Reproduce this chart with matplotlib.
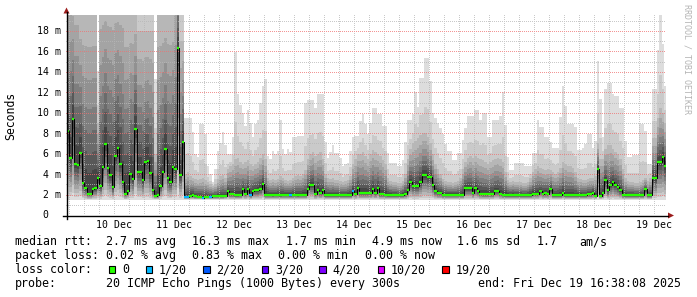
import numpy as np
import matplotlib
matplotlib.use('Agg')
import matplotlib.pyplot as plt
import matplotlib.dates as mdates
import matplotlib.transforms as mtrans
from matplotlib.patches import Rectangle, Polygon
from matplotlib.lines import Line2D

W, H = 697, 297
MONO = 'DejaVu Sans Mono'

# ---- data (hourly bins, ms) ----
t_start = np.datetime64('2025-12-09T16:38:08')
t_end = np.datetime64('2025-12-19T16:38:08')
first_bin = np.datetime64('2025-12-09T17:30')

median_ms = [
    # 9 Dec evening - 11 Dec morning (noisy)
    8.2, 5.6, 9.4, 5.0, 4.9, 6.1, 3.1, 2.6, 2.1, 2.1, 2.5, 2.6, 3.6, 2.8, 4.7, 6.9,
    4.6, 3.9, 2.7, 5.8, 6.6, 5.0, 3.2, 2.1, 2.3, 4.0, 3.5, 8.4, 4.2, 4.2, 3.4, 5.2,
    5.3, 4.1, 2.4, 1.9, 2.0, 2.8, 4.2, 6.5, 3.6, 3.2, 4.7, 4.5, 16.3, 3.9, 7.1,
    # rest
    1.8, 1.8, 1.9, 2.0, 1.85, 1.8, 1.8, 1.7, 1.8, 1.8,
    1.8, 1.85, 1.85, 1.85, 1.85, 1.85, 1.9, 2.3, 2.05, 2.05,
    1.95, 1.95, 2.0, 2.5, 2.1, 2.5, 2.0, 2.3, 2.4, 2.4,
    2.55, 3.0, 2.0, 2.0, 2.0, 1.95, 2.0, 2.0, 1.95, 2.0,
    2.0, 2.0, 1.95, 2.0, 2.0, 1.95, 2.0, 2.0, 2.0, 2.55,
    2.9, 2.9, 2.1, 2.45, 2.2, 2.4, 1.95, 1.95, 1.95, 1.95,
    1.95, 1.95, 1.95, 1.95, 1.95, 1.95, 1.95, 2.3, 2.1, 2.6,
    2.2, 2.2, 2.2, 2.2, 2.2, 2.5, 2.15, 2.6, 2.05, 2.05,
    2.0, 1.96, 1.96, 1.96, 1.96, 1.96, 1.96, 1.96, 2.05, 2.45,
    3.2, 2.8, 2.8, 2.8, 3.2, 3.95, 3.95, 3.75, 3.75, 2.95,
    2.3, 2.15, 2.15, 2.0, 2.0, 2.0, 2.0, 2.0, 2.0, 2.0,
    2.0, 2.0, 2.6, 2.6, 2.6, 2.15, 2.6, 2.3, 2.1, 2.05,
    2.05, 2.05, 2.05, 2.05, 2.3, 2.3, 2.1, 2.0, 1.96, 1.96,
    1.96, 1.96, 1.96, 1.96, 1.96, 1.96, 1.96, 1.96, 1.96, 2.1,
    2.1, 2.1, 2.3, 2.1, 2.2, 2.1, 2.5, 1.94, 1.94, 1.94,
    1.94, 2.2, 1.94, 1.94, 1.94, 1.94, 1.94, 1.94, 1.94, 1.94,
    1.94, 2.05, 2.05, 2.2, 1.9, 4.5, 1.9, 2.2, 3.4, 2.4,
    2.9, 3.2, 2.9, 2.7, 2.4, 2.0, 1.94, 1.94, 1.94, 1.94,
    1.94, 1.94, 1.94, 1.94, 2.5, 1.94, 1.94, 3.6, 3.6, 5.2,
    5.2, 5.7, 4.8,
]

# highest ping per bin (first part goes off the chart)
max_ms = [
    30, 30, 30, 30, 30, 30, 30, 30, 30, 30, 30, 30, 14.1, 30, 30, 30,
    30, 30, 30, 30, 30, 30, 30, 30, 30, 30, 30, 30, 30, 30, 30, 30,
    30, 30, 30, 13.3, 30, 30, 30, 30, 30, 30, 30, 30, 30, 30, 30,
    9.5, 9.5, 9.5, 8.1, 6.0, 5.7, 8.9, 8.9, 7.9, 4.8,
    4.0, 3.2, 4.5, 6.3, 7.0, 8.1, 6.8, 6.0, 6.0, 7.6,
    15.9, 11.8, 10.8, 10.0, 8.7, 10.3, 9.0, 7.6, 8.9, 9.3,
    11.0, 12.6, 13.3, 5.8, 5.5, 6.3, 6.0, 6.3, 9.3, 6.5,
    6.0, 6.5, 6.2, 7.6, 7.6, 7.7, 7.7, 7.7, 11.0, 11.2,
    11.2, 11.2, 10.5, 11.8, 11.8, 11.8, 7.1, 5.6, 6.2, 6.8,
    6.1, 6.1, 5.6, 4.8, 5.0, 5.1, 6.3, 7.6, 7.7, 7.7,
    9.2, 9.9, 8.9, 7.9, 9.0, 10.5, 10.5, 9.9, 9.9, 8.7,
    8.7, 6.1, 5.1, 5.1, 5.1, 4.8, 4.8, 5.4, 7.1, 9.3,
    9.3, 9.9, 12.0, 10.6, 13.4, 13.4, 15.4, 15.4, 13.1, 10.0,
    9.5, 9.0, 8.5, 7.9, 6.9, 6.3, 6.3, 5.4, 5.4, 6.1,
    6.1, 7.3, 8.5, 9.7, 9.7, 9.7, 10.3, 10.3, 9.3, 10.0,
    10.0, 7.6, 7.6, 9.3, 9.3, 9.3, 9.7, 12.0, 8.8, 5.7,
    4.4, 4.4, 5.1, 5.1, 5.1, 5.1, 4.8, 4.8, 4.8, 6.1,
    6.1, 9.3, 8.6, 8.6, 7.6, 7.6, 7.1, 6.6, 6.6, 6.6,
    9.6, 12.6, 10.7, 8.9, 8.9, 8.9, 8.6, 6.4, 6.4, 6.6,
    6.9, 7.9, 7.9, 6.6, 7.2, 15.1, 11.3, 7.6, 12.3, 12.9,
    12.9, 11.8, 11.6, 11.6, 10.5, 10.5, 7.2, 5.7, 5.7, 5.9,
    5.9, 5.9, 8.9, 8.9, 8.2, 5.0, 5.0, 12.3, 12.3, 16.1,
    19.7, 16.7, 12.6,
]

# top of the denser (darker) part of the smoke
mid_ms = [
    24, 24, 22, 22, 22, 20, 20, 20, 20, 20, 20, 20, 9, 22, 22, 22,
    22, 22, 22, 22, 22, 22, 22, 20, 20, 20, 20, 20, 18, 18, 18, 18,
    18, 18, 18, 6, 20, 20, 20, 20, 20, 20, 20, 24, 26, 17, 17,
    4.0, 4.2, 3.8, 3.6, 3.5, 3.4,
    3.5, 3.6, 3.4, 3.2, 3.0, 2.8, 3.0, 3.5, 3.8, 3.9, 3.6,
    4.5, 4.8, 5.0, 5.5, 5.6, 5.2, 5.0, 5.2, 5.4, 5.0, 4.8, 5.0, 5.2, 5.6, 6.0, 5.5,
    3.6, 3.4, 3.5, 3.4, 3.5, 3.8, 3.6, 3.4, 3.3, 3.4, 3.6, 3.8, 3.9, 3.8, 4.0, 4.4,
    5.5, 6.0, 6.2, 5.8, 6.0, 6.2, 5.5,
    4.0, 3.6, 3.5, 3.6, 3.4, 3.4, 3.3, 3.2, 3.3, 3.4, 3.8,
    5.0, 5.5, 6.0, 6.0, 6.2, 5.8, 5.5, 6.0, 6.4, 6.2, 6.0, 5.8, 5.4, 5.0,
    3.6, 3.3, 3.2, 3.2, 3.1, 3.1, 3.3, 4.0,
    5.5, 6.5, 7.0, 7.2, 7.5, 7.8, 8.0, 8.0, 7.6, 7.0, 6.0, 5.0, 4.5, 4.0,
    3.5, 3.3, 3.2, 3.2, 3.1, 3.2, 3.3, 3.6,
    4.5, 5.2, 5.6, 5.8, 5.6, 5.8, 5.6, 5.5, 5.4, 5.2, 5.0, 5.2, 5.4, 5.5, 5.6, 5.5, 5.2, 4.2,
    3.4, 3.2, 3.3, 3.2, 3.2, 3.2, 3.1, 3.1, 3.2, 3.6,
    4.2, 4.5, 4.8, 4.6, 4.5, 4.4, 4.5, 4.4, 4.2, 4.0, 4.2, 4.6,
    5.2, 5.0, 4.8, 4.8, 4.6, 4.2,
    3.6, 3.5, 3.4, 3.4, 3.5, 3.6, 3.6, 3.8,
    7.0, 5.5, 5.5, 6.5, 6.8, 6.8, 6.5, 6.2, 6.0, 5.5, 4.5,
    3.6, 3.3, 3.2, 3.2, 3.1, 3.1, 3.2, 3.4, 3.6, 3.3, 3.6,
    7.5, 7.5, 9.5, 10.5, 10.0, 9.0,
]
min_ms = 1.5

loss_hours = [47, 48, 54, 57, 73, 89, 114]   # bins with 1/20 lost

y_top = 19.56
day_labels = ['10 Dec', '11 Dec', '12 Dec', '13 Dec', '14 Dec',
              '15 Dec', '16 Dec', '17 Dec', '18 Dec', '19 Dec']

loss_labels = ['0', '1/20', '2/20', '3/20', '4/20', '10/20', '19/20']
loss_colors = ['#26ff00', '#00b8ff', '#0059ff', '#5e00ff', '#7e00ff', '#dd00ff', '#ff0000']

# plot box in pixels
PX0, PY0, PW, PH = 66, 15, 600, 200


def fx(x):
    return x / W


def fy(y):
    return 1 - y / H


fig = plt.figure(figsize=(W / 100, H / 100), dpi=100)
fig.patch.set_facecolor('white')
ax = fig.add_axes([fx(PX0), fy(PY0 + PH), PW / W, PH / H])
ax.set_axis_off()

t = mdates.date2num(first_bin + np.arange(len(median_ms)) * np.timedelta64(1, 'h'))
x0, x1 = mdates.date2num(t_start), mdates.date2num(t_end)

med = np.array(median_ms)
hi = np.array(max_ms)
mid = np.clip(np.array(mid_ms), med, hi)

# smoke: nested bands, lighter outside, darker toward the median
shades = [221, 202, 183, 164, 145, 126, 107, 88, 69]
up = [None, None, 1.0, .80, .62, .46, .33, .21, .11]
dn = [1.0, .92, .82, .70, .58, .46, .34, .22, .12]
for k, s in enumerate(shades):
    if k == 0:
        top = hi
    elif k == 1:
        top = mid + (hi - mid) * 0.35
    else:
        top = med + (mid - med) * up[k]
    bot = med - (med - min_ms) * dn[k]
    ax.fill_between(t, bot, top, step='mid', color='#%02x%02x%02x' % (s, s, s),
                    lw=0, zorder=1)

# grid: 1px on / 1px off dots, rasterised at the plot's pixel size
six = np.arange(np.datetime64('2025-12-09T18:00'), t_end, np.timedelta64(6, 'h'))
grid = np.zeros((PH, PW, 4))
red = (0.94, 0.45, 0.45, 0.75)
grey = (0.72, 0.72, 0.72, 0.75)
for d in six:
    c = int(round((mdates.date2num(d) - x0) / (x1 - x0) * PW))
    if 0 <= c < PW:
        grid[::2, c] = red if str(d).endswith('T00:00') else grey
for v in range(1, 20):
    r = int(round((y_top - v) / y_top * PH))
    if 0 <= r < PH:
        grid[r, ::2] = red if v % 2 == 0 else grey
ax.imshow(grid, extent=(x0, x1, 0, y_top), aspect='auto', interpolation='nearest',
          zorder=2)

# median
half = 0.5 / 24
ax.step(t, med, where='mid', color='black', lw=0.7, zorder=3)
cols = [loss_colors[1] if i in loss_hours else loss_colors[0] for i in range(len(med))]
ax.hlines(med, t - half, t + half, colors=cols, lw=1.6, zorder=4)

ax.set_xlim(x0, x1)
ax.set_ylim(0, y_top)

# axes lines and arrows
fig.add_artist(Line2D([fx(62.5), fx(668)], [fy(215.5), fy(215.5)], color='black', lw=1.0))
fig.add_artist(Line2D([fx(66.5), fx(66.5)], [fy(219), fy(12)], color='black', lw=1.0))
fig.add_artist(Polygon([(fx(63.5), fy(13.5)), (fx(69.5), fy(13.5)), (fx(66.5), fy(7.5))],
                       closed=True, transform=fig.transFigure, color='#9b1c1c', lw=0))
fig.add_artist(Polygon([(fx(668), fy(212.5)), (fx(668), fy(218.5)), (fx(674), fy(215.5))],
                       closed=True, transform=fig.transFigure, color='#9b1c1c', lw=0))

# tick labels
noon = mdates.date2num(np.datetime64('2025-12-10T12:00') + np.arange(10) * np.timedelta64(1, 'D'))
for d, lab in zip(noon, day_labels):
    ax.text(d, (PY0 + PH - 228) / PH, lab, transform=ax.get_xaxis_transform(),
            ha='center', va='baseline', fontsize=7.1, family=MONO, color='black')

ytr = mtrans.blended_transform_factory(fig.transFigure, ax.transData)
for v in range(0, 19, 2):
    lab, xr = ('0', 48.8) if v == 0 else ('%d m' % v, 60.5)
    ax.annotate(lab, xy=(fx(xr), v), xycoords=ytr, xytext=(0, -3.5),
                textcoords='offset pixels', ha='right', va='baseline',
                fontsize=7.1, family=MONO, color='black', annotation_clip=False)

fig.text(fx(11), fy(115.5), 'Seconds', rotation=90, ha='center', va='center',
         fontsize=8.3, family=MONO, color='black')
fig.text(fx(687), fy(4), 'RRDTOOL / TOBI OETIKER', rotation=270, ha='center', va='top',
         fontsize=6, family=MONO, color='#b4b4b4')

# legend lines
fs = 8.4
rows = [
    (245.3, [('median rtt:', 15.3), ('2.7 ms avg', 106.5), ('16.3 ms max', 191.8),
             ('1.7 ms min', 285.8), ('4.9 ms now', 371.7), ('1.6 ms sd', 456.8),
             ('1.7', 536.2), ('am/s', 579.2)]),
    (259.3, [('packet loss:', 15.3), ('0.02 % avg', 106.5), ('0.83 % max', 192.5),
             ('0.00 % min', 278.5), ('0.00 % now', 364.9)]),
    (273.3, [('loss color:', 15.3)]),
    (287.3, [('probe:', 15.3), ('20 ICMP Echo Pings (1000 Bytes) every 300s', 106.5),
             ('end: Fri Dec 19 16:38:08 2025', 477.6)]),
]
for yb, items in rows:
    for s, x in items:
        fig.text(fx(x), fy(yb), s, ha='left', va='baseline', fontsize=fs,
                 family=MONO, color='black')

box_x = [108.7, 145.7, 203.3, 261.7, 319.3, 377.7, 442.3]
lab_x = [121.9, 158.5, 216.5, 275.2, 332.5, 390.2, 455.2]
for bx, lx, lab, c in zip(box_x, lab_x, loss_labels, loss_colors):
    fig.add_artist(Rectangle((fx(bx), fy(272.8)), 6.6 / W, 6.6 / H,
                             transform=fig.transFigure, facecolor=c,
                             edgecolor='black', lw=0.8))
    fig.text(fx(lx), fy(273.3), lab, ha='left', va='baseline', fontsize=fs,
             family=MONO, color='black')

fig.savefig('out.png', dpi=100, facecolor='white')
